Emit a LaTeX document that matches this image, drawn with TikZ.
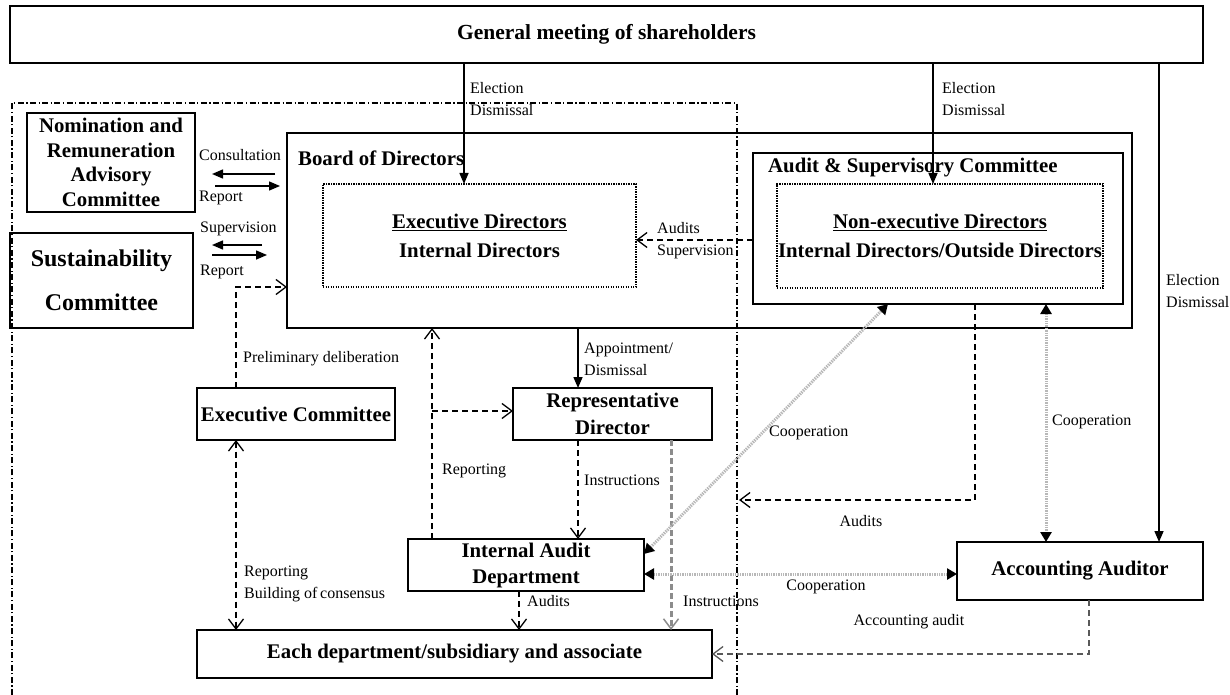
\documentclass[tikz,border=0pt]{standalone}
\usepackage{fontspec}
\setmainfont{Liberation Serif}
\usetikzlibrary{arrows.meta,calc}
\newcommand{\bfnt}{\fontsize{20.8}{25}\selectfont\bfseries}
\newcommand{\lfnt}{\fontsize{16}{22}\selectfont}
\tikzset{
  box/.style={draw, line width=1.6pt, inner sep=0pt, outer sep=0pt, align=center, font=\bfnt},
  dotbox/.style={draw, line width=1.3pt, dash pattern=on 1.2pt off 1.3pt, inner sep=0pt, outer sep=0pt, align=center},
  lbl/.style={anchor=west, inner sep=0pt, align=left, font=\lfnt},
  clbl/.style={inner sep=0pt, align=center, font=\lfnt},
  solidarr/.style={line width=1.5pt, -{Triangle[length=11pt,width=9pt]}},
  dasharr/.style={line width=1.4pt, dash pattern=on 6pt off 4pt, -{Straight Barb[length=10pt,width=15pt,line width=1.3pt]}},
  dasharrb/.style={line width=1.4pt, dash pattern=on 6pt off 4pt, {Straight Barb[length=10pt,width=15pt,line width=1.3pt]}-{Straight Barb[length=10pt,width=15pt,line width=1.3pt]}},
  grayins/.style={draw=black!45, line width=3pt, dash pattern=on 6pt off 3pt, -{Straight Barb[length=10pt,width=15pt,line width=1.5pt]}},
  accarr/.style={draw=black!65, line width=1.5pt, dash pattern=on 6pt off 4pt, -{Straight Barb[length=10pt,width=15pt,line width=1.3pt]}},
  coop/.style={draw=black!28, line width=3pt, dash pattern=on 1.4pt off 1pt, {Triangle[length=10pt,width=11pt,color=black]}-{Triangle[length=10pt,width=11pt,color=black]}},
  dashdot/.style={line width=1.1pt, dash pattern=on 6pt off 2.5pt on 1.2pt off 2.5pt}
}
\begin{document}
\begin{tikzpicture}[x=1pt,y=-1pt]
\useasboundingbox (0,0) rectangle (1230,695);

% outer dash-dot boundary
\draw[dashdot] (12,695) -- (12,103) -- (737,103) -- (737,695);

% boxes
\node[box, minimum width=1193pt, minimum height=57pt, font=\fontsize{21.5}{25}\selectfont\bfseries] (gm) at (606.5,34.5) {General meeting of shareholders};
\node[box, minimum width=168pt, minimum height=99pt, font=\fontsize{20.8}{24.5}\selectfont\bfseries] (nom) at (111,162.5) {Nomination and\\Remuneration\\Advisory\\Committee};
\node[box, minimum width=183pt, minimum height=95pt, font=\fontsize{24}{48}\selectfont\bfseries] (sus) at (101.5,280.5) {\raisebox{-4pt}{Sustainability}\\Committee};
\node[box, minimum width=845pt, minimum height=195pt] (board) at (709.5,230.5) {};
\node[anchor=west, inner sep=0pt, font=\bfnt] (boardl) at (298,158) {Board of Directors};
\node[dotbox, minimum width=313pt, minimum height=103pt, font=\fontsize{20.8}{29}\selectfont\bfseries] (exd) at (479.5,235.5) {\underline{Executive Directors}\\Internal Directors};
\node[box, minimum width=370pt, minimum height=151pt] (asc) at (938,228.5) {};
\node[anchor=west, inner sep=0pt, font=\bfnt] (ascl) at (768,168) {Audit \& Supervisory Committee};
\node[dotbox, minimum width=326pt, minimum height=104pt, font=\fontsize{20.8}{29}\selectfont\bfseries] (ned) at (940,236) {\underline{Non-executive Directors}\\Internal Directors/Outside Directors};
\node[box, minimum width=198pt, minimum height=52pt] (exc) at (296,414) {Executive Committee};
\node[box, minimum width=199pt, minimum height=52pt, font=\fontsize{20.8}{27}\selectfont\bfseries] (rep) at (612.5,414) {Representative\\Director};
\node[box, minimum width=236pt, minimum height=52pt, font=\fontsize{20.8}{26}\selectfont\bfseries] (iad) at (526,565) {Internal Audit\\Department};
\node[box, minimum width=246pt, minimum height=58pt] (aa) at (1080,571) {Accounting Auditor};
\node[box, minimum width=515pt, minimum height=48pt] (each) at (454.5,654) {Each department/subsidiary and associate};

% labels
\node[lbl] (le1) at (470,99) {Election\\Dismissal};
\node[lbl] (le2) at (942,99) {Election\\Dismissal};
\node[lbl] (le3) at (1166,291) {Election\\Dismissal};
\node[lbl] (lcon) at (199,155) {Consultation};
\node[lbl] (lrp1) at (199,198) {Report};
\node[lbl] (lsup) at (200,229) {Supervision};
\node[lbl] (lrp2) at (200,272) {Report};
\node[lbl] (las) at (657,240.5) {Audits\\Supervision};
\node[lbl] (lpre) at (243,359) {Preliminary deliberation};
\node[lbl] (lapp) at (584,359) {Appointment/\\Dismissal};
\node[lbl] (lrepo) at (442,471) {Reporting};
\node[lbl] (lins1) at (584,480) {Instructions};
\node[lbl] (lco1) at (769,433) {Cooperation};
\node[lbl] (lco2) at (1052,422) {Cooperation};
\node[clbl] (lau2) at (861,521) {Audits};
\node[clbl] (lco3) at (826,587) {Cooperation};
\node[lbl] (lrb) at (244,583.5) {Reporting\\Building of\,consensus};
\node[lbl] (lau3) at (527,601) {Audits};
\node[lbl] (lins2) at (683,601) {Instructions};
\node[clbl] (lacc) at (909,622) {Accounting audit};

% coordinates for free ends and positions
\coordinate (ca1) at (275,174); \coordinate (ca2) at (212,174);
\coordinate (cb1) at (215,186); \coordinate (cb2) at (280,186);
\coordinate (sa1) at (262,245); \coordinate (sa2) at (212,245);
\coordinate (sb1) at (212,255); \coordinate (sb2) at (267,255);
\coordinate (xE1) at (464,0); \coordinate (xE2) at (933,0); \coordinate (xE3) at (1159,0);
\coordinate (yAS) at (0,240);
\coordinate (xPre) at (236,0); \coordinate (yPre) at (0,287);
\coordinate (xApp) at (578,0); \coordinate (xRep) at (432,0);
\coordinate (branch) at (432,411);
\coordinate (xAud) at (519,0); \coordinate (xGi) at (671,0);
\coordinate (yDiag) at (0,554); \coordinate (xDiag) at (888,0);
\coordinate (yCoop) at (0,574); \coordinate (xVc) at (1046,0);
\coordinate (xAsc) at (975,0); \coordinate (audend) at (739,500);
\coordinate (xAcc) at (1089,0);

% connectors
\draw[solidarr] (gm.south -| xE1) -- (exd.north -| xE1);
\draw[solidarr] (gm.south -| xE2) -- (ned.north -| xE2);
\draw[solidarr] (gm.south -| xE3) -- (aa.north -| xE3);
\draw[solidarr] (ca1) -- (ca2);
\draw[solidarr] (cb1) -- (cb2);
\draw[solidarr] (sa1) -- (sa2);
\draw[solidarr] (sb1) -- (sb2);
\draw[dasharr] (asc.west |- yAS) -- (exd.east |- yAS);
\draw[dasharr] (exc.north -| xPre) |- (board.west |- yPre);
\draw[solidarr] (board.south -| xApp) -- (rep.north -| xApp);
\draw[dasharr] (iad.north -| xRep) -- (board.south -| xRep);
\draw[dasharr] (branch) -- (rep.west |- branch);
\draw[dasharr] (rep.south -| xApp) -- (iad.north -| xApp);
\draw[dasharrb] (exc.south -| xPre) -- (each.north -| xPre);
\draw[dasharr] (iad.south -| xAud) -- (each.north -| xAud);
\draw[grayins] (rep.south -| xGi) -- (each.north -| xGi);
\draw[coop] (iad.east |- yDiag) -- (asc.south -| xDiag);
\draw[coop] (iad.east |- yCoop) -- (aa.west |- yCoop);
\draw[coop] (asc.south -| xVc) -- (aa.north -| xVc);
\draw[dasharr] (asc.south -| xAsc) |- (audend);
\draw[accarr] (aa.south -| xAcc) |- (each.east);
\end{tikzpicture}
\end{document}
